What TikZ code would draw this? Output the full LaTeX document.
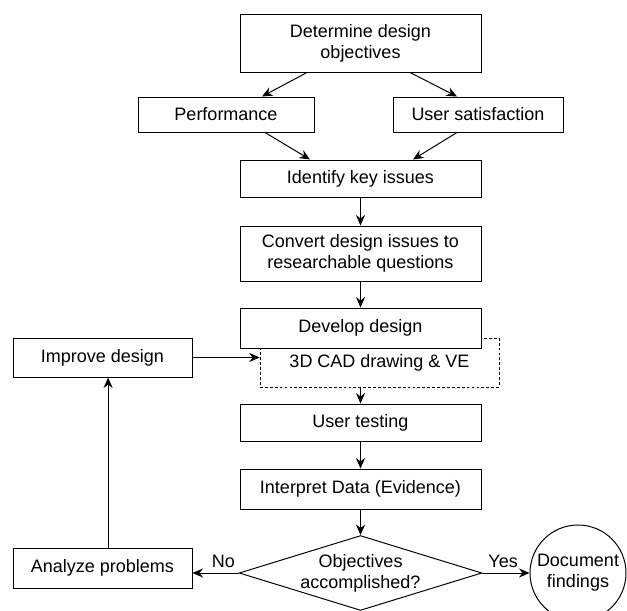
\documentclass[tikz,border=0pt]{standalone}
\usepackage{fontspec}
\setmainfont{Liberation Sans}
\usepackage{tikz}
\usetikzlibrary{arrows.meta, positioning, shapes.geometric}

\begin{document}
\begin{tikzpicture}
  [box/.style={rectangle,draw=black,fill=white,line width=0.7pt,align=center,inner sep=0pt},
  dashbox/.style={rectangle,draw=black,dash pattern=on 2pt off 1.5pt,line width=0.5pt,inner sep=0pt},
  decision/.style={diamond,draw=black,aspect=3.24,line width=0.7pt,align=center,inner sep=0pt,minimum width=6cm,minimum height=1.85cm},
  finish/.style={circle,draw=black,line width=0.7pt,align=center,inner sep=0pt,minimum size=2.4cm},
  arr/.style={-{Stealth[length=7.5pt,width=6.5pt,inset=2.5pt]},line width=0.7pt},
  font=\fontsize{12.8pt}{15pt}\selectfont]

\useasboundingbox (0,0) rectangle (15.675,-15.275);

% Objectives and the two design targets
\node[box, minimum width=6.025cm, minimum height=1.45cm] (obj) at (9.0125, -1.075) {Determine design\\objectives};
\node[box, minimum width=4.4cm, minimum height=0.875cm] (perf) at (5.65, -2.8625) {Performance};
\node[box, minimum width=4.25cm, minimum height=0.875cm] (usat) at (11.95, -2.8625) {User satisfaction};

% Main column
\node[box, minimum width=6.025cm, minimum height=0.925cm] (ident) at (9.0125, -4.4625) {Identify key issues};
\node[box, minimum width=6.025cm, minimum height=1.375cm] (conv) at (9.0125, -6.3375) {Convert design issues to\\researchable questions};
\node[dashbox, minimum width=5.975cm, minimum height=1.225cm] (cad) at (9.4875, -9.0625) {3D CAD drawing \& VE};
\node[box, minimum width=6.025cm, minimum height=1cm] (dev) at (9.0125, -8.2) {Develop design};
\node[box, minimum width=6.025cm, minimum height=0.925cm] (utest) at (9.0125, -10.5625) {User testing};
\node[box, minimum width=6.025cm, minimum height=1cm] (interp) at (9.0125, -12.225) {Interpret Data (Evidence)};
\node[decision] (check) at (9.0125, -14.325) {Objectives\\accomplished?};

% Feedback loop and end
\node[box, minimum width=4.475cm, minimum height=0.975cm] (improve) at (2.5625, -8.9375) {Improve design};
\node[box, minimum width=4.475cm, minimum height=1cm] (analyze) at (2.5625, -14.2) {Analyze problems};
\node[finish] (doc) at (14.45, -14.325) {Document\\findings};

% Arrows
\draw[arr] ([xshift=-1.3375cm]obj.south) -- ([xshift=0.9cm]perf.north);
\draw[arr] ([xshift=1.2375cm]obj.south) -- ([xshift=-0.525cm]usat.north);
\draw[arr] ([xshift=0.975cm]perf.south) -- ([xshift=-1.2625cm]ident.north);
\draw[arr] ([xshift=-0.525cm]usat.south) -- ([xshift=1.3125cm]ident.north);
\draw[arr] (ident) -- (conv);
\draw[arr] (conv) -- (dev);
\draw[arr] (utest.north |- cad.south) -- (utest.north);
\draw[arr] (utest) -- (interp);
\draw[arr] (interp) -- (check);
\draw[arr] (check.west) -- node[above, pos=0.33] {No} (analyze.east |- check.west);
\draw[arr] (check.east) -- node[above, pos=0.44] {Yes} (doc.west);
\draw[arr] ([xshift=0.14cm]analyze.north) -- ([xshift=0.14cm]improve.south);
\draw[arr] (improve.east) -- (cad.west |- improve.east);

\end{tikzpicture}
\end{document}
